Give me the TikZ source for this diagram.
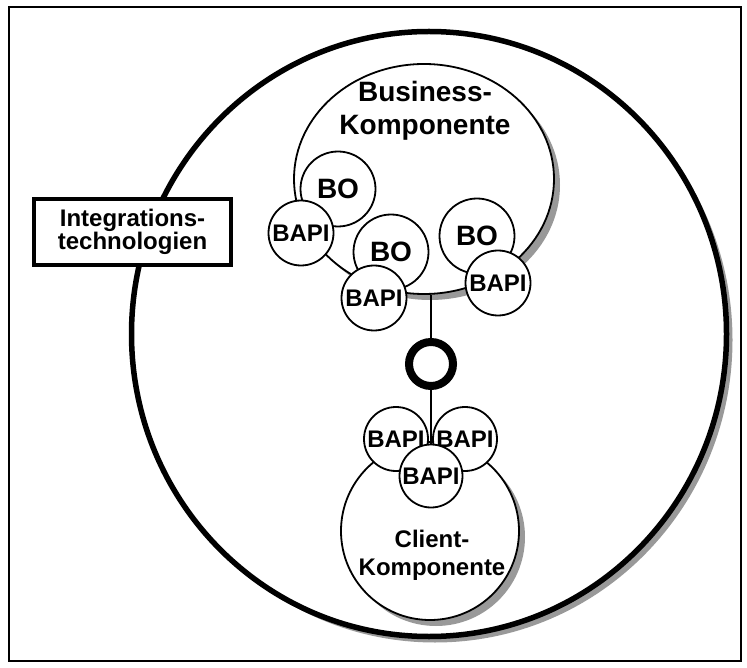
\documentclass[tikz,border=0pt]{standalone}
\usepackage{fontspec}
\setmainfont{Liberation Sans}
\usetikzlibrary{shapes.geometric,shadows}
\begin{document}
\begin{tikzpicture}[x=1pt,y=-1pt,
  greyshadow/.style={drop shadow={shadow xshift=6pt,shadow yshift=-6pt,fill=black!40,opacity=1}},
  part/.style={draw,line width=1.8pt,fill=white,circle,inner sep=0pt},
  bo/.style={part,minimum size=75pt,font=\fontsize{28}{28}\selectfont\bfseries},
  bapi/.style={part,minimum size=65pt,font=\fontsize{24}{24}\selectfont\bfseries},
  compo/.style={ellipse,draw,line width=1.8pt,fill=white,inner sep=0pt,greyshadow},
  wire/.style={line width=1.8pt}]
\useasboundingbox (0,0) rectangle (747,668);

% outer frame
\draw[line width=2.5pt] (9,7) rectangle (741,661);

% integration layer
\node[ellipse,draw,line width=5.5pt,fill=white,inner sep=0pt,
      minimum width=595pt,minimum height=605pt,greyshadow] (layer) at (429,334) {};
\node[draw,line width=4pt,fill=white,minimum width=197pt,minimum height=66pt,
      inner sep=0pt,align=center,font=\fontsize{24}{23}\selectfont\bfseries]
      (integ) at (132.5,232) {Integrations-\\technologien};

% business component
\node[compo,minimum width=260pt,minimum height=230pt] (biz) at (424,179) {};
\node[align=center,font=\fontsize{28}{33}\selectfont\bfseries] (biztext) at (425,111)
      {Business-\\Komponente};
\node[bo] (bo1) at (338,189) {BO};
\node[bapi] (ba1) at (301,233) {BAPI};
\node[bo] (bo2) at (391,252) {BO};
\node[bapi] (ba2) at (374,298) {BAPI};
\node[bo] (bo3) at (477,236) {BO};
\node[bapi] (ba3) at (498,283) {BAPI};

% interface ring
\node[circle,draw,line width=8pt,fill=white,minimum size=44pt,inner sep=0pt] (ring) at (431,364) {};
\draw[wire] (ring.north) -- (ring.north |- biz.south);

% client component
\node[compo,minimum width=178pt,minimum height=178pt] (client) at (430,531) {};
\node[align=center,font=\fontsize{24}{28}\selectfont\bfseries] (clienttext) at (432,555)
      {Client-\\Komponente};
\node[bapi,minimum size=64pt] (cb1) at (396,439) {BAPI};
\node[bapi,minimum size=64pt] (cb2) at (465,439) {BAPI};
\coordinate (cb3pos) at (431,476);
\draw[wire] (ring.south) -- ([yshift=-31pt]cb3pos);
\node[bapi,minimum size=63pt] (cb3) at (cb3pos) {BAPI};
\end{tikzpicture}
\end{document}
